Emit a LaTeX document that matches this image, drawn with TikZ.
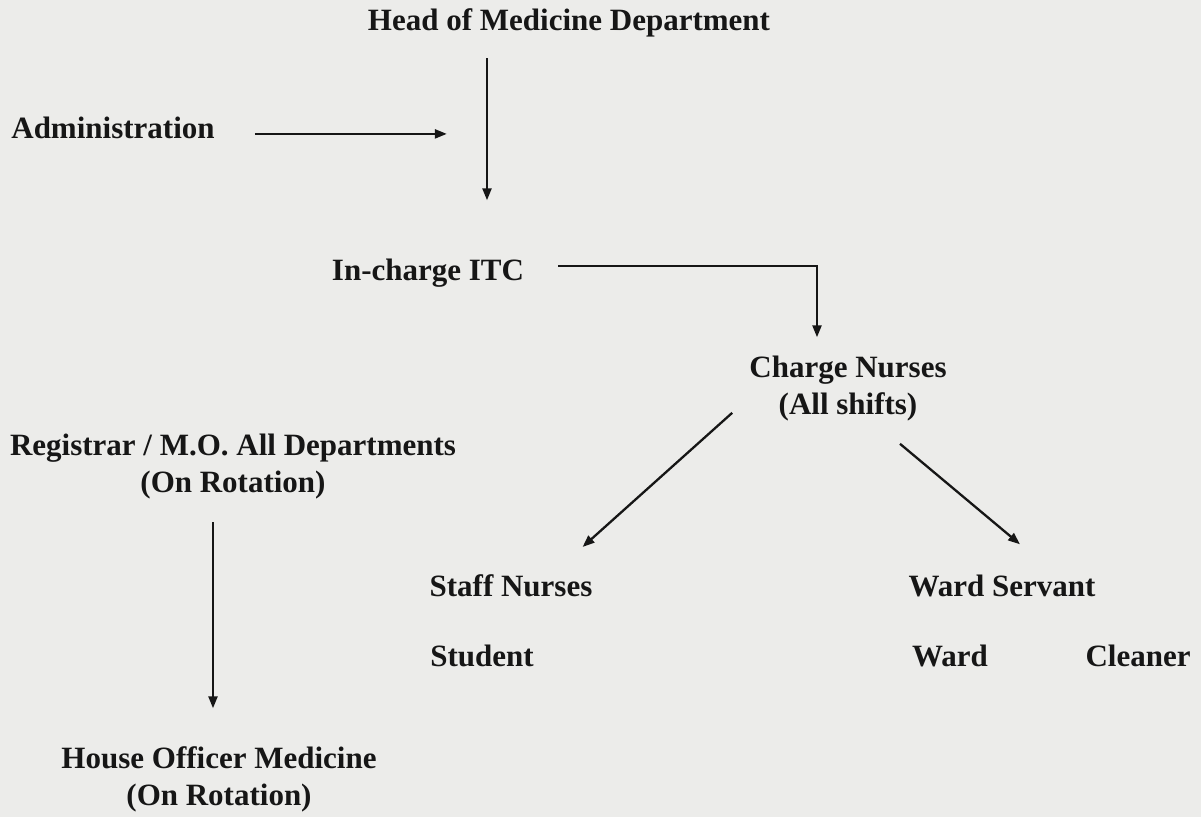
\documentclass[tikz,border=0pt]{standalone}
\usepackage{fontspec}
\setmainfont{Liberation Serif}
\usepackage{xcolor}
\usetikzlibrary{arrows.meta,positioning,calc}
\definecolor{paper}{RGB}{236,236,234}
\definecolor{ink}{RGB}{22,22,22}

\begin{document}
\begin{tikzpicture}[x=1pt,y=1pt,
	lbl/.style={inner sep=0pt,anchor=base,text=ink,align=center,
		font=\fontsize{31}{37}\selectfont\bfseries},
	arr/.style={-{Triangle[length=12pt,width=9pt]},line width=2.3pt,draw=ink}]
	\fill[paper] (0,0) rectangle (1201,-817);
	\useasboundingbox (0,0) rectangle (1201,-817);

	\node[lbl] (head) at (569,-30) {Head of Medicine Department};
	\node[lbl] (admin) at (113,-138) {Administration};
	\node[lbl] (incharge) at (428,-280) {In-charge ITC};
	\node[lbl] (charge) at (848,-414) {Charge Nurses\\(All shifts)};
	\node[lbl] (registrar) at (233,-492) {Registrar / M.O. All Departments\\(On Rotation)};
	\node[lbl] (staff) at (511,-596) {Staff Nurses};
	\node[lbl] (servant) at (1002,-596) {Ward Servant};
	\node[lbl] (student) at (482,-666) {Student};
	\node[lbl] (ward) at (950,-666) {Ward};
	\node[lbl] (cleaner) at (1138,-666) {Cleaner};
	\node[lbl] (house) at (219,-805) {House Officer Medicine\\(On Rotation)};

	\draw[arr] ([xshift=40pt,yshift=-6.5pt]admin.east) -- ++(192,0);
	\draw[arr] ([xshift=-82pt,yshift=-21.5pt]head.south) -- ++(0,-142);
	\draw[arr] ([xshift=34pt,yshift=6.75pt]incharge.east) -| ([xshift=-31pt,yshift=18pt]charge.north);
	\draw[arr] ([xshift=-17pt,yshift=8pt]charge.south west) -- ([xshift=-10pt,yshift=27pt]staff.north east);
	\draw[arr] ([xshift=52pt,yshift=-23pt]charge.south) -- ([xshift=18pt,yshift=30pt]servant.north);
	\draw[arr] ([xshift=-20pt,yshift=-23.5pt]registrar.south) -- ++(0,-186);
\end{tikzpicture}
\end{document}
